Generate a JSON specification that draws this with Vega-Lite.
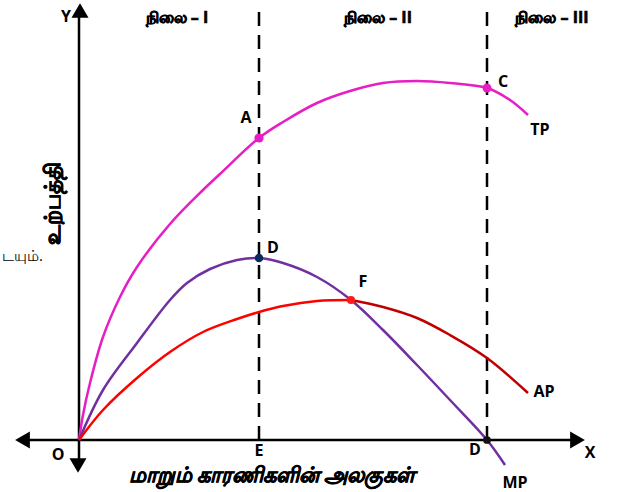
{
  "$schema": "https://vega.github.io/schema/vega-lite/v6.json",
  "width": 620,
  "height": 492,
  "padding": 0,
  "autosize": "none",
  "background": "white",
  "config": {"view": {"stroke": null}},
  "datasets": {
    "curves": [
      {"series": "TP", "x": 0, "y": 0},
      {"series": "TP", "x": 4, "y": 25},
      {"series": "TP", "x": 11, "y": 57},
      {"series": "TP", "x": 24, "y": 103},
      {"series": "TP", "x": 41, "y": 143},
      {"series": "TP", "x": 58, "y": 173},
      {"series": "TP", "x": 91, "y": 216},
      {"series": "TP", "x": 124, "y": 250},
      {"series": "TP", "x": 141, "y": 266},
      {"series": "TP", "x": 180, "y": 302},
      {"series": "TP", "x": 204, "y": 318},
      {"series": "TP", "x": 238, "y": 337},
      {"series": "TP", "x": 271, "y": 349},
      {"series": "TP", "x": 304, "y": 357},
      {"series": "TP", "x": 338, "y": 359},
      {"series": "TP", "x": 371, "y": 357},
      {"series": "TP", "x": 408, "y": 352},
      {"series": "TP", "x": 431, "y": 340},
      {"series": "TP", "x": 449, "y": 325},
      {"series": "MP", "x": 0, "y": 0},
      {"series": "MP", "x": 24, "y": 50},
      {"series": "MP", "x": 58, "y": 97},
      {"series": "MP", "x": 91, "y": 140},
      {"series": "MP", "x": 108, "y": 157},
      {"series": "MP", "x": 131, "y": 171},
      {"series": "MP", "x": 158, "y": 180},
      {"series": "MP", "x": 180, "y": 182},
      {"series": "MP", "x": 204, "y": 177},
      {"series": "MP", "x": 238, "y": 163},
      {"series": "MP", "x": 272, "y": 140},
      {"series": "MP", "x": 304, "y": 110},
      {"series": "MP", "x": 338, "y": 75},
      {"series": "MP", "x": 371, "y": 40},
      {"series": "MP", "x": 408, "y": 0},
      {"series": "MP", "x": 426, "y": -25},
      {"series": "AP1", "x": 0, "y": 0},
      {"series": "AP1", "x": 24, "y": 30},
      {"series": "AP1", "x": 58, "y": 62},
      {"series": "AP1", "x": 91, "y": 88},
      {"series": "AP1", "x": 124, "y": 108},
      {"series": "AP1", "x": 158, "y": 121},
      {"series": "AP1", "x": 180, "y": 128},
      {"series": "AP1", "x": 204, "y": 134},
      {"series": "AP1", "x": 238, "y": 139},
      {"series": "AP1", "x": 272, "y": 140},
      {"series": "AP2", "x": 272, "y": 140},
      {"series": "AP2", "x": 304, "y": 133},
      {"series": "AP2", "x": 338, "y": 122},
      {"series": "AP2", "x": 371, "y": 105},
      {"series": "AP2", "x": 408, "y": 82},
      {"series": "AP2", "x": 449, "y": 47}
    ],
    "dashed": [
      {"x": 180, "y": 0, "y2": 437},
      {"x": 408, "y": 0, "y2": 437}
    ],
    "axes": [
      {"x": -56, "x2": 498, "y": 0, "y2": 0},
      {"x": 0, "x2": 0, "y": -25, "y2": 430}
    ],
    "arrows": [
      {"dir": "left", "x": -56.5, "y": 0},
      {"dir": "right", "x": 498.5, "y": 0},
      {"dir": "up", "x": 1, "y": 429.5},
      {"dir": "down", "x": -1, "y": -25.5}
    ],
    "dots": [
      {"name": "A", "x": 180, "y": 302},
      {"name": "C", "x": 408, "y": 352},
      {"name": "D1", "x": 180, "y": 182},
      {"name": "F", "x": 272, "y": 140},
      {"name": "D2", "x": 408, "y": 0}
    ],
    "letters": [
      {"label": "Y", "x": -13, "y": 423},
      {"label": "A", "x": 167, "y": 322},
      {"label": "C", "x": 424, "y": 358},
      {"label": "TP", "x": 461, "y": 310},
      {"label": "D", "x": 194, "y": 192},
      {"label": "F", "x": 284, "y": 158},
      {"label": "AP", "x": 465, "y": 48},
      {"label": "O", "x": -21, "y": -15},
      {"label": "E", "x": 180, "y": -11},
      {"label": "D", "x": 396, "y": -10},
      {"label": "X", "x": 511, "y": -13},
      {"label": "MP", "x": 436, "y": -43}
    ],
    "stages": [
      {"label": "நிலை – I", "x": 98, "y": 422},
      {"label": "நிலை – II", "x": 299, "y": 422},
      {"label": "நிலை – III", "x": 473, "y": 422}
    ]
  },
  "encoding": {
    "x": {"field": "x", "type": "quantitative", "axis": null,
          "scale": {"domain": [-79, 541], "nice": false, "zero": false}},
    "y": {"field": "y", "type": "quantitative", "axis": null,
          "scale": {"domain": [-52, 440], "nice": false, "zero": false}}
  },
  "layer": [
    {
      "data": {"name": "dashed"},
      "mark": {"type": "rule", "color": "black", "strokeWidth": 2.5, "strokeDash": [14, 9]},
      "encoding": {"y2": {"field": "y2"}}
    },
    {
      "data": {"name": "axes"},
      "mark": {"type": "rule", "color": "black", "strokeWidth": 2.5},
      "encoding": {"x2": {"field": "x2"}, "y2": {"field": "y2"}}
    },
    {
      "data": {"name": "arrows"},
      "mark": {"type": "point", "filled": true, "color": "black", "opacity": 1, "size": 290},
      "encoding": {
        "shape": {"field": "dir", "type": "nominal", "legend": null,
                  "scale": {"domain": ["left", "right", "up", "down"],
                            "range": ["triangle-left", "triangle-right", "triangle-up", "triangle-down"]}}
      }
    },
    {
      "data": {"name": "curves"},
      "mark": {"type": "line", "strokeWidth": 2.5, "interpolate": "catmull-rom"},
      "encoding": {
        "color": {"field": "series", "type": "nominal", "legend": null,
                  "scale": {"domain": ["TP", "MP", "AP1", "AP2"],
                            "range": ["#e61ec4", "#7030a0", "#ff0000", "#c00000"]}},
        "detail": {"field": "series"}
      }
    },
    {
      "data": {"name": "dots"},
      "mark": {"type": "point", "filled": true, "opacity": 1, "shape": "circle", "strokeWidth": 0},
      "encoding": {
        "fill": {"field": "name", "type": "nominal", "legend": null,
                  "scale": {"domain": ["A", "C", "D1", "F", "D2"],
                            "range": ["#e61ec4", "#e61ec4", "#0b2a5e", "#ff1a1a", "#111111"]}},
        "size": {"field": "name", "type": "nominal", "legend": null,
                 "scale": {"domain": ["A", "C", "D1", "F", "D2"], "range": [85, 60, 70, 55, 55]}}
      }
    },
    {
      "data": {"name": "letters"},
      "mark": {"type": "text", "font": "Open Sans", "fontWeight": "bold", "fontSize": 16, "color": "black", "align": "center", "baseline": "middle"},
      "encoding": {"text": {"field": "label"}}
    },
    {
      "data": {"name": "stages"},
      "mark": {"type": "text", "font": "Open Sans", "fontWeight": "bold", "fontSize": 16, "color": "black", "stroke": "black", "strokeWidth": 0.6, "align": "center", "baseline": "middle"},
      "encoding": {"text": {"field": "label"}}
    },
    {
      "data": {"values": [{"label": "மாறும் காரணிகளின் அலகுகள்", "x": 193, "y": -36}]},
      "mark": {"type": "text", "font": "Open Sans", "fontWeight": "bold", "fontStyle": "italic", "fontSize": 21, "color": "black", "stroke": "black", "strokeWidth": 0.6, "align": "center", "baseline": "middle"},
      "encoding": {"text": {"field": "label"}}
    },
    {
      "data": {"values": [{"label": "உற்பத்தி", "x": -26, "y": 237}]},
      "mark": {"type": "text", "font": "Open Sans", "fontWeight": "bold", "fontSize": 22, "color": "black", "stroke": "black", "strokeWidth": 0.6, "align": "center", "baseline": "middle", "angle": 270},
      "encoding": {"text": {"field": "label"}}
    },
    {
      "data": {"values": [{"label": "டயும்.", "x": -77, "y": 184}]},
      "mark": {"type": "text", "font": "Open Sans", "fontSize": 15, "color": "black", "align": "left", "baseline": "middle"},
      "encoding": {"text": {"field": "label"}}
    }
  ]
}
